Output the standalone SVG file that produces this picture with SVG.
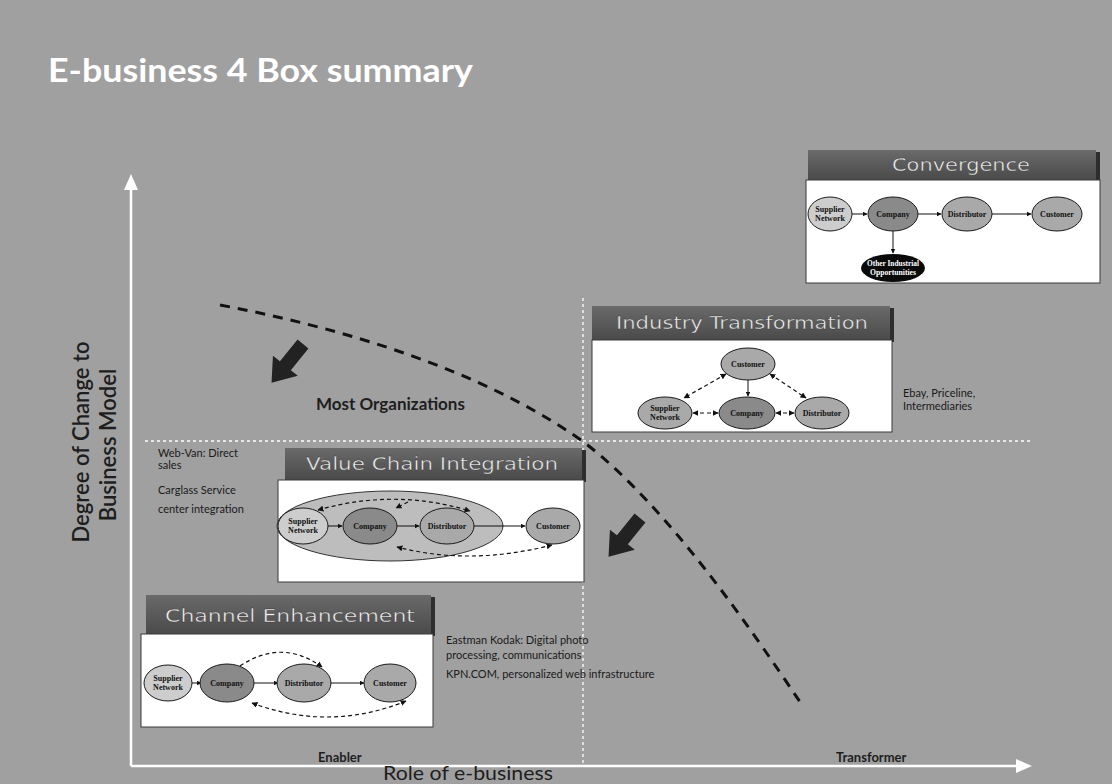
<svg xmlns="http://www.w3.org/2000/svg" width="1112" height="784" viewBox="0 0 1112 784">
  <defs>
    <style>
      .title { font-family: "Lato", "Liberation Sans", sans-serif; font-weight: bold; font-size: 32px; fill: #ffffff; }
      .hdrt { font-family: "DejaVu Sans", "Liberation Sans", sans-serif; font-size: 18px; fill: #eeeeee; stroke: #333333; stroke-width: 0.35px; text-anchor: middle; }
      .hdr { fill: url(#hg); }
      .hdrEdge { fill: #2e2e2e; }
      .body { fill: #ffffff; stroke: #3a3a3a; stroke-width: 1; }
      .n { stroke: #1a1a1a; stroke-width: 1; }
      .nL { fill: #cdcdcd; }
      .nD { fill: #8a8a8a; }
      .nM { fill: #a9a9a9; }
      .nt { font-family: "Liberation Serif", serif; font-size: 8px; font-weight: bold; fill: #111; text-anchor: middle; }
      .ntw { fill: #ffffff; }
      .sol { stroke: #111; stroke-width: 1; fill: none; marker-end: url(#ah); }
      .dsh { stroke: #111; stroke-width: 1.2; fill: none; stroke-dasharray: 4 3; }
      .note { font-family: "Lato", "Liberation Sans", sans-serif; font-size: 11px; fill: #1a1a1a; }
      .axis { stroke: #ffffff; stroke-width: 2.5; fill: none; }
      .grid { stroke: #ffffff; stroke-width: 1.3; stroke-dasharray: 3 3; fill: none; }
      .lab { font-family: "Lato", "Liberation Sans", sans-serif; fill: #1e1e1e; }
    </style>
    <linearGradient id="hg" x1="0" y1="0" x2="0" y2="1">
      <stop offset="0" stop-color="#6a6a6a"/>
      <stop offset="1" stop-color="#4a4a4a"/>
    </linearGradient>
    <marker id="ah" viewBox="0 0 10 10" refX="9" refY="5" markerWidth="5" markerHeight="5" orient="auto-start-reverse">
      <path d="M0,0 L10,5 L0,10 z" fill="#111"/>
    </marker>
    <polygon id="blockArrow" points="0,-7 28,-7 28,-16 50,0 28,16 28,7 0,7"/>
  </defs>

  <!-- slide background -->
  <rect x="0" y="0" width="1112" height="784" fill="#a0a0a0"/>

  <text class="title" x="48" y="82" textLength="425" lengthAdjust="spacingAndGlyphs">E-business 4 Box summary</text>

  <!-- quadrant dividers -->
  <g id="dividers">
    <line class="grid" x1="145" y1="441" x2="1030" y2="441"/>
    <line class="grid" x1="583" y1="298" x2="583" y2="765"/>
  </g>

  <!-- axes -->
  <g id="axes">
    <line class="axis" x1="131" y1="766" x2="131" y2="186"/>
    <polygon points="131,174 124,190 138,190" fill="#fff"/>
    <line class="axis" x1="131" y1="766" x2="1018" y2="766"/>
    <polygon points="1032,766 1016,759 1016,773" fill="#fff"/>
    <text class="lab" x="89" y="442" font-size="22" font-weight="600" text-anchor="middle" transform="rotate(-90 89 442)">Degree of Change to</text>
    <text class="lab" x="116" y="445" font-size="22" font-weight="600" text-anchor="middle" transform="rotate(-90 116 445)">Business Model</text>
    <text class="lab" x="318" y="762" font-size="13" font-weight="bold">Enabler</text>
    <text class="lab" x="836" y="762" font-size="13" font-weight="bold">Transformer</text>
    <text class="lab" x="383" y="780" font-size="20" textLength="170" lengthAdjust="spacingAndGlyphs">Role of e-business</text>
  </g>

  <!-- migration path -->
  <g id="connectors">
    <path d="M220,305 C380,335 505,385 585,443 C665,505 745,620 800,702" stroke="#111" stroke-width="3" fill="none" stroke-dasharray="10 8"/>
    <use href="#blockArrow" fill="#222" transform="translate(303,344) rotate(129)"/>
    <use href="#blockArrow" fill="#222" transform="translate(640,518) rotate(129)"/>
  </g>
  <text class="lab" x="316" y="410" font-size="17" font-weight="bold">Most Organizations</text>

  <!-- Convergence -->
  <g id="convergence">
    <rect class="hdrEdge" x="810" y="152" width="290" height="30"/>
    <rect class="hdr" x="808" y="150" width="288" height="30"/>
    <text class="hdrt" x="961" y="171" textLength="138" lengthAdjust="spacingAndGlyphs">Convergence</text>
    <rect class="body" x="806" y="180" width="294" height="103"/>
    <line class="sol" x1="852" y1="214" x2="867" y2="214"/>
    <line class="sol" x1="918" y1="214" x2="941" y2="214"/>
    <line class="sol" x1="992" y1="214" x2="1031" y2="214"/>
    <line class="sol" x1="893" y1="231" x2="893" y2="253"/>
    <ellipse class="n nL" cx="830" cy="214" rx="22" ry="17"/>
    <text class="nt" x="830" y="212">Supplier</text>
    <text class="nt" x="830" y="221">Network</text>
    <ellipse class="n nD" cx="893" cy="214" rx="25" ry="17"/>
    <text class="nt" x="893" y="217">Company</text>
    <ellipse class="n nM" cx="967" cy="214" rx="25" ry="17"/>
    <text class="nt" x="967" y="217">Distributor</text>
    <ellipse class="n nM" cx="1057" cy="214" rx="25" ry="17"/>
    <text class="nt" x="1057" y="217">Customer</text>
    <ellipse cx="893" cy="268" rx="32" ry="14" fill="#0a0a0a"/>
    <text class="nt ntw" x="893" y="266" textLength="52" lengthAdjust="spacingAndGlyphs">Other Industrial</text>
    <text class="nt ntw" x="893" y="275" textLength="46" lengthAdjust="spacingAndGlyphs">Opportunities</text>
  </g>

  <!-- Industry Transformation -->
  <g id="industry-transformation">
    <rect class="hdrEdge" x="594" y="308" width="300" height="34"/>
    <rect class="hdr" x="592" y="306" width="298" height="34"/>
    <text class="hdrt" x="742" y="329" textLength="252" lengthAdjust="spacingAndGlyphs">Industry Transformation</text>
    <rect class="body" x="592" y="340" width="300" height="92"/>
    <line class="dsh" x1="726" y1="374" x2="684" y2="398" marker-start="url(#ah)" marker-end="url(#ah)"/>
    <line class="dsh" x1="770" y1="374" x2="806" y2="398" marker-start="url(#ah)" marker-end="url(#ah)"/>
    <line class="sol" x1="748" y1="380" x2="748" y2="396"/>
    <line class="dsh" x1="693" y1="413" x2="718" y2="413" marker-start="url(#ah)" marker-end="url(#ah)"/>
    <line class="dsh" x1="776" y1="413" x2="794" y2="413" marker-start="url(#ah)" marker-end="url(#ah)"/>
    <ellipse class="n nM" cx="748" cy="364" rx="27" ry="16"/>
    <text class="nt" x="748" y="367">Customer</text>
    <ellipse class="n nM" cx="665" cy="413" rx="27" ry="16"/>
    <text class="nt" x="665" y="411">Supplier</text>
    <text class="nt" x="665" y="420">Network</text>
    <ellipse class="n nD" cx="747" cy="413" rx="28" ry="16"/>
    <text class="nt" x="747" y="416">Company</text>
    <ellipse class="n nM" cx="822" cy="413" rx="27" ry="16"/>
    <text class="nt" x="822" y="416">Distributor</text>
  </g>
  <text class="note" x="903" y="397">Ebay, Priceline,</text>
  <text class="note" x="903" y="410">Intermediaries</text>

  <!-- Value Chain Integration -->
  <g id="value-chain-integration">
    <rect class="hdrEdge" x="287" y="450" width="299" height="32"/>
    <rect class="hdr" x="285" y="448" width="297" height="32"/>
    <text class="hdrt" x="432" y="470" textLength="252" lengthAdjust="spacingAndGlyphs">Value Chain Integration</text>
    <rect class="body" x="278" y="480" width="306" height="102"/>
    <ellipse cx="390" cy="526" rx="113" ry="35" fill="#bdbdbd" stroke="#333" stroke-width="1"/>
    <path class="dsh" d="M318,510 Q395,488 470,511" marker-start="url(#ah)" marker-end="url(#ah)"/>
    <line class="dsh" x1="408" y1="502" x2="396" y2="508" marker-end="url(#ah)"/>
    <path class="dsh" d="M552,545 Q470,566 397,547" marker-start="url(#ah)" marker-end="url(#ah)"/>
    <line class="sol" x1="328" y1="526" x2="342" y2="526"/>
    <line class="sol" x1="397" y1="526" x2="419" y2="526"/>
    <line class="sol" x1="474" y1="526" x2="525" y2="526"/>
    <ellipse class="n nL" cx="303" cy="526" rx="25" ry="18"/>
    <text class="nt" x="303" y="524">Supplier</text>
    <text class="nt" x="303" y="533">Network</text>
    <ellipse class="n nD" cx="370" cy="526" rx="27" ry="18"/>
    <text class="nt" x="370" y="529">Company</text>
    <ellipse class="n nM" cx="447" cy="526" rx="27" ry="18"/>
    <text class="nt" x="447" y="529">Distributor</text>
    <ellipse class="n nM" cx="553" cy="526" rx="27" ry="18"/>
    <text class="nt" x="553" y="529">Customer</text>
  </g>
  <text class="note" x="158" y="457">Web-Van: Direct</text>
  <text class="note" x="158" y="469">sales</text>
  <text class="note" x="158" y="494">Carglass Service</text>
  <text class="note" x="158" y="513">center integration</text>

  <!-- Channel Enhancement -->
  <g id="channel-enhancement">
    <rect class="hdrEdge" x="148" y="597" width="287" height="39"/>
    <rect class="hdr" x="146" y="595" width="285" height="39"/>
    <text class="hdrt" x="290" y="622" textLength="250" lengthAdjust="spacingAndGlyphs">Channel Enhancement</text>
    <rect class="body" x="141" y="634" width="292" height="93"/>
    <path class="dsh" d="M240,666 Q282,638 322,667" marker-end="url(#ah)"/>
    <path class="dsh" d="M406,701 Q330,732 252,703" marker-start="url(#ah)" marker-end="url(#ah)"/>
    <line class="sol" x1="192" y1="683" x2="201" y2="683"/>
    <line class="sol" x1="254" y1="683" x2="278" y2="683"/>
    <line class="sol" x1="331" y1="683" x2="364" y2="683"/>
    <ellipse class="n nL" cx="168" cy="683" rx="24" ry="18"/>
    <text class="nt" x="168" y="681">Supplier</text>
    <text class="nt" x="168" y="690">Network</text>
    <ellipse class="n nD" cx="227" cy="683" rx="27" ry="19"/>
    <text class="nt" x="227" y="686">Company</text>
    <ellipse class="n nM" cx="304" cy="683" rx="27" ry="19"/>
    <text class="nt" x="304" y="686">Distributor</text>
    <ellipse class="n nM" cx="390" cy="683" rx="26" ry="19"/>
    <text class="nt" x="390" y="686">Customer</text>
  </g>
  <text class="note" x="446" y="644">Eastman Kodak: Digital photo</text>
  <text class="note" x="446" y="659">processing, communications</text>
  <text class="note" x="446" y="678">KPN.COM, personalized web infrastructure</text>
</svg>
